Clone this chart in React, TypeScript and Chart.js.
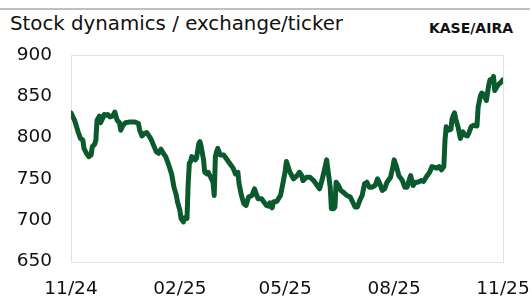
import React, { useEffect, useRef } from "react";
import { Chart, registerables } from "chart.js";

Chart.register(...registerables);

// day offsets from 2024-11-01
const days = [
  0, 3, 6, 8, 10, 11, 13, 15, 17, 18, 20, 21, 22, 24, 25, 27, 28, 30, 31, 33,
  35, 36, 37, 39, 41, 42, 44, 46, 50, 54, 57, 58, 60, 62, 64, 66, 68, 70, 72, 74,
  76, 78, 80, 81, 83, 85, 87, 89, 90, 92, 93, 95, 96, 98, 99, 100, 101, 102, 105, 106,
  108, 109, 110, 112, 113, 115, 116, 118, 120, 121, 122, 123, 124, 126, 129, 131, 134, 137, 139, 141,
  142, 144, 146, 148, 150, 153, 155, 157, 158, 161, 163, 165, 167, 168, 170, 171, 174, 177, 179, 181,
  182, 185, 188, 191, 193, 195, 196, 199, 202, 205, 208, 210, 212, 214, 216, 217, 219, 220, 222, 223,
  224, 226, 228, 230, 233, 236, 238, 240, 242, 244, 246, 248, 250, 252, 254, 257, 259, 261, 263, 265,
  267, 270, 272, 273, 275, 277, 279, 280, 282, 284, 286, 287, 289, 291, 293, 296, 298, 300, 303, 305,
  307, 309, 311, 313, 315, 316, 317, 319, 321, 322, 324, 325, 327, 329, 331, 333, 335, 336, 338, 340,
  343, 344, 346, 347, 348, 350, 351, 353, 354, 355, 357, 358, 360, 361, 364, 365,
];

const prices = [
  830, 821, 807, 799, 797, 787, 781, 777, 779, 789, 792, 797, 821, 826, 818, 824, 828, 827, 828, 825,
  826, 828, 831, 821, 818, 809, 815, 818, 819, 819, 817, 809, 802, 805, 806, 802, 797, 790, 783, 781,
  786, 781, 777, 773, 765, 756, 740, 730, 722, 712, 702, 698, 703, 702, 744, 769, 771, 777, 773, 775,
  793, 795, 789, 773, 758, 756, 758, 752, 746, 730, 777, 783, 787, 779, 779, 775, 769, 763, 756, 758,
  744, 730, 720, 718, 728, 730, 738, 730, 726, 726, 722, 718, 717, 721, 715, 722, 723, 730, 744, 760,
  771, 758, 750, 754, 758, 754, 748, 752, 752, 748, 742, 738, 748, 760, 773, 762, 740, 714, 714, 716,
  746, 742, 736, 734, 730, 728, 722, 716, 716, 724, 730, 744, 746, 740, 740, 742, 750, 744, 736, 738,
  746, 752, 765, 773, 765, 754, 750, 748, 740, 740, 750, 754, 742, 746, 746, 748, 747, 752, 758, 765,
  764, 763, 765, 761, 765, 797, 813, 809, 810, 823, 830, 823, 813, 799, 807, 803, 802, 805, 813, 815,
  814, 837, 851, 854, 853, 848, 845, 864, 870, 868, 874, 857, 862, 864, 868, 870,
];

const tickDays = [0, 92, 181, 273, 365];
const tickLabels = ["11/24", "02/25", "05/25", "08/25", "11/25"];
const yTicks = [650, 700, 750, 800, 850, 900];

const titleText = "Stock dynamics / exchange/ticker";
const tickerText = "KASE/AIRA";

export default function App() {
  const ref = useRef<HTMLCanvasElement>(null);

  useEffect(() => {
    if (!ref.current) return;
    const boxPlugin = {
      id: "box",
      beforeDatasetsDraw(chart: any) {
        const { ctx, chartArea: a } = chart;
        ctx.save();
        ctx.strokeStyle = "#e2e2e2";
        ctx.lineWidth = 1;
        ctx.strokeRect(
          Math.round(a.left) + 0.5,
          Math.round(a.top) + 0.5,
          Math.round(a.right - a.left),
          Math.round(a.bottom - a.top)
        );
        ctx.restore();
      },
    };
    const zeroPad = (axis: any) => {
      axis.paddingTop = 0;
      axis.paddingBottom = 0;
      axis.paddingLeft = 0;
      axis.paddingRight = 0;
    };
    const font = { family: "'DejaVu Sans'", size: 18.5 };
    const chart = new Chart(ref.current, {
      type: "line",
      data: {
        datasets: [
          {
            data: days.map((d, i) => ({ x: d, y: prices[i] })),
            borderColor: "#0b5a2d",
            borderWidth: 5,
            pointRadius: 0,
            tension: 0,
            borderJoinStyle: "round",
            borderCapStyle: "round",
            fill: false,
          },
        ],
      },
      options: {
        animation: false,
        responsive: false,
        maintainAspectRatio: false,
        layout: { padding: { top: 15, right: 29, left: 0, bottom: 0 } },
        plugins: { legend: { display: false }, tooltip: { enabled: false } },
        scales: {
          x: {
            type: "linear",
            min: tickDays[0],
            max: tickDays[tickDays.length - 1],
            grid: { display: false, drawTicks: false },
            border: { display: false },
            afterBuildTicks: (axis: any) => {
              axis.ticks = tickDays.map((v) => ({ value: v }));
            },
            afterFit: (axis: any) => {
              axis.height = 34.5;
              zeroPad(axis);
            },
            ticks: {
              autoSkip: false,
              maxRotation: 0,
              padding: 17,
              color: "#111",
              font,
              callback: (v: any) => {
                const i = tickDays.indexOf(Number(v));
                return i >= 0 ? tickLabels[i] : "";
              },
            },
          },
          y: {
            min: yTicks[0],
            max: yTicks[yTicks.length - 1],
            grid: { display: false, drawTicks: false },
            border: { display: false },
            afterBuildTicks: (axis: any) => {
              axis.ticks = yTicks.map((v) => ({ value: v }));
            },
            afterFit: (axis: any) => {
              axis.width = 71;
              zeroPad(axis);
            },
            ticks: { padding: 19, color: "#111", font },
          },
        },
      },
      plugins: [boxPlugin],
    } as any);
    return () => chart.destroy();
  }, []);

  return (
    <div
      style={{
        position: "absolute",
        left: 0,
        top: 0,
        width: 532,
        height: 296,
        background: "#fff",
        overflow: "hidden",
      }}
    >
      <div
        style={{
          position: "absolute",
          left: 0,
          top: 8,
          width: 530,
          height: 2,
          background: "#c0c0c0",
        }}
      />
      <div
        style={{
          position: "absolute",
          left: 10,
          top: 14,
          fontFamily: "'DejaVu Sans'",
          fontSize: 19.8,
          lineHeight: 1,
          color: "#111",
          whiteSpace: "nowrap",
        }}
      >
        {titleText}
      </div>
      <div
        style={{
          position: "absolute",
          right: 19,
          top: 20.6,
          fontFamily: "'DejaVu Sans'",
          fontWeight: "bold",
          fontSize: 14,
          lineHeight: 1,
          color: "#111",
          whiteSpace: "nowrap",
        }}
      >
        {tickerText}
      </div>
      <canvas
        ref={ref}
        width={532}
        height={256}
        style={{ position: "absolute", left: 0, top: 40, width: 532, height: 256 }}
      />
    </div>
  );
}
